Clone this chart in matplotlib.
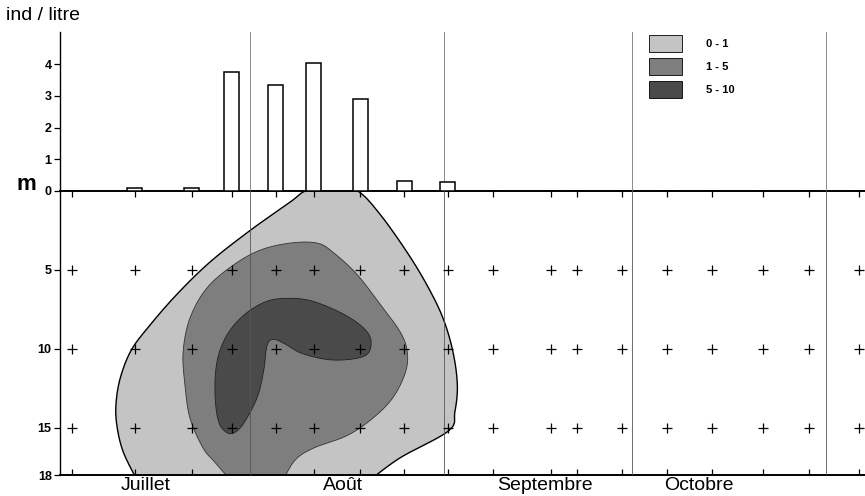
import numpy as np
import matplotlib.pyplot as plt
from matplotlib.patches import Patch

plt.rcParams['font.family'] = ['Liberation Sans', 'DejaVu Sans']

# sampling dates, in days since 1 July
days = [2.6, 12.6, 21.7, 28.1, 35.1, 41.2, 48.6, 55.6, 62.6, 69.8,
        79.1, 83.2, 90.4, 97.6, 104.8, 112.9, 120.3, 128.3]
# mean abundance (ind/litre) at each date
dens = [0, 0.1, 0.1, 3.75, 3.35, 4.05, 2.9, 0.33, 0.27, 0,
        0, 0, 0, 0, 0, 0, 0, 0]
depths = [5, 10, 15]

month_starts = [31, 62, 92, 123]
month_names = ['Juillet', 'Août', 'Septembre', 'Octobre']
month_pos = [14.3, 45.8, 78.1, 102.7]

# isoline outlines (day, depth)
outer_d = [12.9, 10.7, 9.7, 9.6, 10.3, 12.0, 14.8, 19.3, 24.6, 31.0, 37.4,
           39.8, 44.0, 48.2, 51.8, 56.1, 59.3, 61.8, 63.4, 64.1, 63.7, 62.7,
           55.0, 50.2]
outer_z = [18.3, 16.5, 14.8, 13.4, 11.8, 10.1, 8.6, 6.55, 4.5, 2.5, 0.7,
           0.0, -0.5, 0.0, 1.5, 3.9, 6.0, 8.05, 10.2, 12.3, 14.0, 15.2,
           16.9, 18.3]

mid_d = [27.8, 25.4, 23.5, 21.4, 20.6, 20.3, 21.4, 24.1, 28.3, 32.6, 37.4,
         41.7, 44.3, 48.1, 51.8, 55.0, 56.1, 55.8, 53.8, 50.6, 46.5, 41.1,
         38.2, 36.3]
mid_z = [18.3, 17.2, 16.3, 14.4, 12.3, 10.2, 8.05, 6.15, 4.7, 3.75, 3.3,
         3.3, 3.9, 5.3, 7.2, 8.95, 10.2, 11.5, 13.1, 14.4, 15.5, 16.3,
         17.05, 18.3]

dark_d = [27.5, 26.0, 25.4, 25.7, 27.2, 29.9, 33.6, 37.4, 41.1, 45.4, 48.6,
          50.2, 50.0, 48.1, 43.8, 39.3, 36.6, 34.7, 33.7, 33.2, 32.3, 30.7,
          29.1]
dark_z = [15.35, 14.65, 12.9, 10.85, 9.2, 7.9, 7.0, 6.8, 7.0, 7.7, 8.5,
          9.3, 10.2, 10.6, 10.7, 10.3, 9.7, 9.4, 9.8, 11.3, 12.9, 14.25,
          15.15]

classes = ['0 - 1', '1 - 5', '5 - 10']
shades = ['#c4c4c4', '#7e7e7e', '#4a4a4a']


def smooth(xs, ys, closed=False, n=16):
  # catmull-rom through the read points
  P = np.column_stack([xs, ys]).astype(float)
  if closed:
    P = np.vstack([P[-1], P, P[0], P[1]])
  else:
    P = np.vstack([P[0], P, P[-1]])
  out = []
  t = np.linspace(0, 1, n, endpoint=False)[:, None]
  for i in range(1, len(P)-2):
    p0, p1, p2, p3 = P[i-1], P[i], P[i+1], P[i+2]
    seg = 0.5*((2*p1) + (-p0+p2)*t + (2*p0-5*p1+4*p2-p3)*t**2
               + (-p0+3*p1-3*p2+p3)*t**3)
    out.append(seg)
  out.append(P[-2][None])
  return np.vstack(out)


fig = plt.figure(figsize=(8.65, 4.96), dpi=100)
W, H = 865., 496.
ax2 = fig.add_axes([60/W, 1-475/H, 1-60/W, 284/H])
ax1 = fig.add_axes([60/W, 1-191/H, 1-60/W, 159/H])
xlim = (0.64, 129.2)

# top panel: bars
ax1.bar(days, dens, width=2.4, color='white', edgecolor='black', lw=1.1, zorder=3)
ax1.set_xlim(*xlim)
ax1.set_ylim(0, 5.02)
ax1.set_yticks([1, 2, 3, 4])
ax1.set_xticks([])
for s in ['top', 'right', 'bottom']:
  ax1.spines[s].set_visible(False)
ax1.spines['left'].set_linewidth(1.0)
ax1.tick_params(axis='y', direction='out', length=4, width=0.9, pad=2,
                labelsize=9)
for lab in ax1.get_yticklabels():
  lab.set_fontweight('bold')
ax1.patch.set_alpha(0)
for m in month_starts:
  ax1.axvline(m, color='#777777', lw=0.6, zorder=1)

ax1.legend([Patch(facecolor=c, edgecolor='black', lw=0.6) for c in shades], classes,
           loc='upper left', bbox_to_anchor=(643/W, 1-29/H),
           bbox_transform=fig.transFigure, frameon=False, borderpad=0,
           handlelength=3.0, handleheight=2.0, labelspacing=0.55,
           handletextpad=2.2, prop={'size': 8, 'weight': 'bold'})

# bottom panel: isolines
o = smooth(outer_d, outer_z)
ax2.fill(o[:, 0], o[:, 1], color=shades[0], lw=0, zorder=1)
ax2.plot(o[:, 0], o[:, 1], color='black', lw=1.0, zorder=2)
mm = smooth(mid_d, mid_z)
ax2.fill(mm[:, 0], mm[:, 1], color=shades[1], lw=0, zorder=2)
ax2.plot(mm[:, 0], mm[:, 1], color='#333333', lw=0.6, zorder=2)
dk = smooth(dark_d, dark_z, closed=True)
ax2.fill(dk[:, 0], dk[:, 1], facecolor=shades[2], edgecolor='#222222', lw=0.6, zorder=3)

for m in month_starts:
  ax2.axvline(m, color='#555555', lw=0.6, zorder=4)

px = np.repeat(days, len(depths))
pz = np.tile(depths, len(days))
ax2.plot(px, pz, '+', color='black', ms=7, mew=0.9, zorder=5)

ax2.set_xlim(*xlim)
ax2.set_ylim(18, 0)
ax2.set_yticks([0, 5, 10, 15, 18])
ax2.set_xticks(days)
ax2.set_xticklabels([])
ax2.tick_params(axis='x', direction='in', top=True, length=4, width=0.9)
ax2.tick_params(axis='y', direction='out', length=4, width=0.9, pad=2,
                labelsize=9)
for lab in ax2.get_yticklabels():
  lab.set_fontweight('bold')
ax2.spines['right'].set_visible(False)
ax2.spines['top'].set_linewidth(1.4)
ax2.spines['bottom'].set_linewidth(1.4)
ax2.spines['left'].set_linewidth(1.0)

for name, pos in zip(month_names, month_pos):
  ax2.text(pos, -0.036, name, transform=ax2.get_xaxis_transform(),
           ha='center', va='center', fontsize=14, clip_on=False)

fig.text(6/W, 1-15/H, 'ind / litre', fontsize=14, ha='left', va='center')
fig.text(17/W, 1-185/H, 'm', fontsize=16, fontweight='bold', ha='left', va='center')

fig.savefig('out.png', dpi=100)
